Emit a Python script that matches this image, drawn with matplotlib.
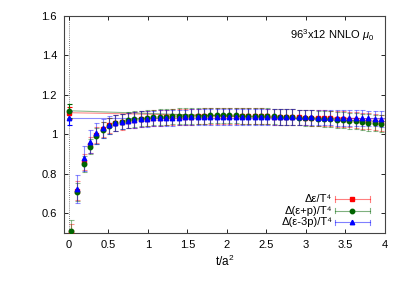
import matplotlib
matplotlib.use("Agg")
import matplotlib.pyplot as plt
import numpy as np

plt.rcParams['font.family'] = ['Liberation Sans', 'DejaVu Sans']
plt.rcParams['mathtext.fontset'] = 'custom'
plt.rcParams['mathtext.rm'] = 'Liberation Sans'
plt.rcParams['mathtext.it'] = 'Liberation Sans:italic'

t = [0.03, 0.11, 0.19, 0.27, 0.35, 0.43, 0.51, 0.59, 0.67, 0.75,
     0.83, 0.91, 0.99, 1.07, 1.15, 1.23, 1.31, 1.39, 1.47, 1.55,
     1.63, 1.71, 1.79, 1.87, 1.95, 2.03, 2.11, 2.19, 2.27, 2.35,
     2.43, 2.51, 2.59, 2.67, 2.75, 2.83, 2.91, 2.99, 3.07, 3.15,
     3.23, 3.31, 3.39, 3.47, 3.55, 3.63, 3.71, 3.79, 3.87, 3.95]

eps = [0.505, 0.715, 0.858, 0.945, 0.995, 1.025, 1.045, 1.057, 1.064, 1.070,
       1.074, 1.077, 1.080, 1.082, 1.084, 1.086, 1.087, 1.088, 1.089, 1.090,
       1.091, 1.092, 1.092, 1.093, 1.093, 1.093, 1.093, 1.093, 1.093, 1.092,
       1.092, 1.091, 1.090, 1.089, 1.088, 1.087, 1.086, 1.085, 1.084, 1.083,
       1.082, 1.081, 1.079, 1.077, 1.075, 1.072, 1.069, 1.066, 1.062, 1.058]
eps_err = [0.040, 0.047, 0.040, 0.040, 0.040, 0.040, 0.040, 0.040, 0.040, 0.040,
           0.040, 0.040, 0.040, 0.040, 0.040, 0.040, 0.040, 0.040, 0.040, 0.040,
           0.040, 0.040, 0.040, 0.040, 0.040, 0.040, 0.040, 0.040, 0.040, 0.040,
           0.040, 0.040, 0.040, 0.040, 0.040, 0.040, 0.040, 0.040, 0.040, 0.040,
           0.040, 0.040, 0.040, 0.040, 0.040, 0.040, 0.040, 0.040, 0.040, 0.040]

enth = [0.510, 0.708, 0.850, 0.938, 0.990, 1.022, 1.044, 1.057, 1.065, 1.071,
        1.076, 1.080, 1.083, 1.086, 1.088, 1.090, 1.091, 1.092, 1.093, 1.094,
        1.095, 1.095, 1.096, 1.096, 1.096, 1.096, 1.096, 1.095, 1.095, 1.094,
        1.093, 1.092, 1.091, 1.090, 1.088, 1.087, 1.085, 1.084, 1.082, 1.080,
        1.078, 1.076, 1.074, 1.072, 1.069, 1.066, 1.063, 1.060, 1.057, 1.054]
enth_err = [0.055, 0.045, 0.040, 0.040, 0.040, 0.040, 0.040, 0.040, 0.040, 0.040,
            0.040, 0.040, 0.040, 0.040, 0.040, 0.040, 0.040, 0.040, 0.040, 0.040,
            0.040, 0.040, 0.040, 0.040, 0.040, 0.040, 0.040, 0.040, 0.040, 0.040,
            0.040, 0.040, 0.040, 0.040, 0.040, 0.040, 0.040, 0.040, 0.040, 0.040,
            0.040, 0.040, 0.040, 0.040, 0.040, 0.040, 0.042, 0.042, 0.042, 0.042]

trace = [0.400, 0.722, 0.878, 0.962, 1.005, 1.030, 1.048, 1.058, 1.065, 1.070,
         1.074, 1.077, 1.079, 1.081, 1.082, 1.083, 1.084, 1.085, 1.086, 1.087,
         1.087, 1.088, 1.088, 1.088, 1.088, 1.088, 1.088, 1.088, 1.088, 1.088,
         1.088, 1.088, 1.087, 1.087, 1.087, 1.087, 1.086, 1.086, 1.086, 1.085,
         1.085, 1.085, 1.084, 1.084, 1.083, 1.083, 1.082, 1.081, 1.080, 1.079]
trace_err = [0.080, 0.072, 0.065, 0.058, 0.052, 0.048, 0.045, 0.042, 0.040, 0.040,
             0.040, 0.040, 0.040, 0.040, 0.040, 0.040, 0.040, 0.040, 0.040, 0.040,
             0.040, 0.040, 0.040, 0.040, 0.040, 0.040, 0.040, 0.040, 0.040, 0.040,
             0.040, 0.040, 0.040, 0.040, 0.040, 0.040, 0.040, 0.040, 0.040, 0.040,
             0.040, 0.040, 0.040, 0.040, 0.040, 0.040, 0.040, 0.040, 0.040, 0.040]

# extrapolated t->0 values and linear fit lines
fit_x = [0.0, 4.0]
eps_fit = [1.110, 1.078]
enth_fit = [1.120, 1.065]
trace_fit = [1.085, 1.085]
eps0, eps0_err = 1.110, 0.030
enth0, enth0_err = 1.120, 0.035
trace0, trace0_err = 1.085, 0.035

labels = ['Δε/T⁴', 'Δ(ε+p)/T⁴', 'Δ(ε-3p)/T⁴']

RED = '#ff0000'
GREEN = '#006400'
BLUE = '#0000ff'

fig = plt.figure(figsize=(4.09, 2.86), dpi=100)
ax = fig.add_axes([0.1565, 0.1853, 0.7848, 0.7587])

series = [
    (eps, eps_err, RED, 's', eps_fit, eps0, eps0_err, labels[0]),
    (enth, enth_err, GREEN, 'o', enth_fit, enth0, enth0_err, labels[1]),
    (trace, trace_err, BLUE, '^', trace_fit, trace0, trace0_err, labels[2]),
]

for y, e, c, m, fy, y0, e0, lab in series:
    ax.plot(fit_x, fy, color=c, lw=0.8, alpha=0.45, zorder=2)
    ax.errorbar([0.0], [y0], yerr=[e0], fmt=m, color=c, ms=3.2, elinewidth=0.8,
                capsize=1.8, capthick=0.8, ecolor=c, alpha=1.0, zorder=3)
    ax.errorbar(t, y, yerr=e, fmt='none', ecolor=c, elinewidth=0.8,
                capsize=1.8, capthick=0.8, alpha=0.45, zorder=3)
    ax.plot(t, y, linestyle='none', marker=m, color=c, ms=3.2, zorder=4)

ax.axvline(0.0, color='#555555', lw=0.6, ls=(0, (1, 1.5)), zorder=1)

ax.set_xlim(-0.06, 4.0)
ax.set_ylim(0.5, 1.6)
ax.set_xticks([0, 0.5, 1, 1.5, 2, 2.5, 3, 3.5, 4])
ax.set_xticklabels(['0', '0.5', '1', '1.5', '2', '2.5', '3', '3.5', '4'])
ax.set_yticks([0.6, 0.8, 1.0, 1.2, 1.4, 1.6])
ax.set_yticklabels(['0.6', '0.8', '1', '1.2', '1.4', '1.6'])
ax.tick_params(direction='in', top=True, right=True, length=3, width=0.6,
               labelsize=8, pad=5, colors='black')
for sp in ax.spines.values():
    sp.set_linewidth(0.8)
    sp.set_color('#444444')

ax.set_xlabel(r't/a$^2$', fontsize=8.5, labelpad=3)

ax.text(0.965, 0.91, r'96$^3$x12 NNLO $\mu_0$', transform=ax.transAxes,
        ha='right', va='center', fontsize=8)

# manual gnuplot-like key
key_y = [0.157, 0.103, 0.049]
for (y, e, c, m, fy, y0, e0, lab), ky in zip(series, key_y):
    ax.text(0.836, ky, lab, transform=ax.transAxes, ha='right', va='center', fontsize=8)
    ax.plot([0.844, 0.953], [ky, ky], transform=ax.transAxes, color=c, lw=0.8, alpha=0.5)
    for xx in (0.844, 0.953):
        ax.plot([xx, xx], [ky - 0.012, ky + 0.012], transform=ax.transAxes,
                color=c, lw=0.8, alpha=0.5)
    ax.plot([0.8985], [ky], transform=ax.transAxes, marker=m, color=c, ms=3.2,
            linestyle='none')

fig.savefig('out.png', dpi=100)
